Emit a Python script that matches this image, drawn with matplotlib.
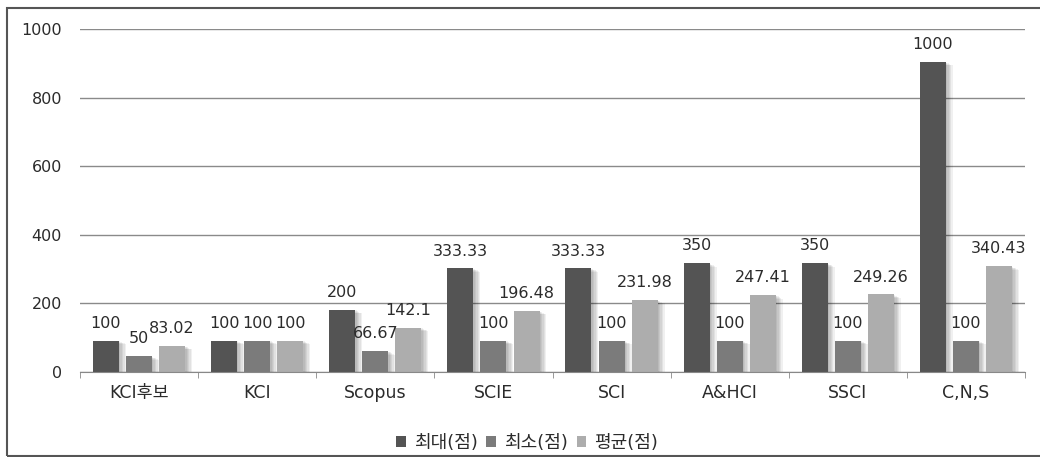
import matplotlib
matplotlib.use('agg')
import matplotlib.pyplot as plt
import matplotlib.patheffects as pe
from matplotlib.patches import Patch, Rectangle
import numpy as np

# wide latin face first, Korean glyphs fall through to Noto CJK
plt.rcParams['font.family'] = ['DejaVu Sans', 'Noto Sans CJK KR']

# journal categories and scores (labels as printed on the chart)
categories = ['KCI후보', 'KCI', 'Scopus', 'SCIE', 'SCI', 'A&HCI', 'SSCI', 'C,N,S']
max_scores = [100, 100, 200, 333.33, 333.33, 350, 350, 1000]
min_scores = [50, 100, 66.67, 100, 100, 100, 100, 100]
avg_scores = [83.02, 100, 142.1, 196.48, 231.98, 247.41, 249.26, 340.43]
series_names = ['최대(점)', '최소(점)', '평균(점)']
series_colors = ['#545454', '#7b7b7b', '#adadad']
y_ticks = [0, 200, 400, 600, 800, 1000]

# the source chart draws its bars at about 0.905 of the printed value
bar_scale = 0.905

text_col = '#2b2b2b'

fig = plt.figure(figsize=(10.4, 4.57), dpi=100)
ax = fig.add_axes([80 / 1040, 85.3 / 457, 945 / 1040, 342.4 / 457])

x = np.arange(len(categories))
width = 0.22
step = 0.28

#soft shadow to the lower right of each bar
shadow = [pe.SimplePatchShadow(offset=(d, -d * 0.5), shadow_rgbFace='k', alpha=0.06) for d in (1, 2, 3, 4, 5)]

for i, (vals, col) in enumerate(zip([max_scores, min_scores, avg_scores], series_colors)):
    pos = x + (i - 1) * step
    heights = np.array(vals) * bar_scale
    bars = ax.bar(pos, heights, width=width, color=col, zorder=3)
    for b in bars:
        b.set_path_effects(shadow + [pe.Normal()])
    for px, h, v in zip(pos, heights, vals):
        ax.annotate('%g' % v, (px, h), xytext=(0, 12.5), textcoords='offset points',
                    ha='center', va='center', fontsize=11.5, color=text_col, zorder=4)

ax.set_xlim(-0.5, len(categories) - 0.5)
ax.set_ylim(0, 1000)
ax.set_yticks(y_ticks)
ax.set_yticklabels([str(t) for t in y_ticks], fontsize=11.5, color=text_col)
ax.tick_params(axis='y', length=0, pad=13)

ax.set_xticks(x)
ax.set_xticklabels(categories, fontsize=12.5, color=text_col)
ax.set_xticks(np.arange(len(categories) + 1) - 0.5, minor=True)
ax.tick_params(axis='x', which='major', length=0, pad=9)
ax.tick_params(axis='x', which='minor', length=4, color='#888888', direction='out')

ax.grid(axis='y', color='#8a8a8a', linewidth=1)
ax.set_axisbelow(True)
for s in ['top', 'right', 'left']:
    ax.spines[s].set_visible(False)
ax.spines['bottom'].set_color('#888888')
ax.spines['bottom'].set_zorder(5)

handles = [Patch(facecolor=c, edgecolor='none') for c in series_colors]
fig.legend(handles, series_names, loc='center', bbox_to_anchor=(527 / 1040, 14 / 457),
           ncol=3, frameon=False, fontsize=13, handlelength=0.55, handleheight=0.55,
           handletextpad=0.4, columnspacing=0.5, labelcolor=text_col)

#outer frame of the original figure
fig.patches.append(Rectangle((7 / 1040, 1 / 457), 1.1, 448 / 457, transform=fig.transFigure,
                             fill=False, edgecolor='#555555', linewidth=1.5))

plt.savefig('out.png', dpi=100)
